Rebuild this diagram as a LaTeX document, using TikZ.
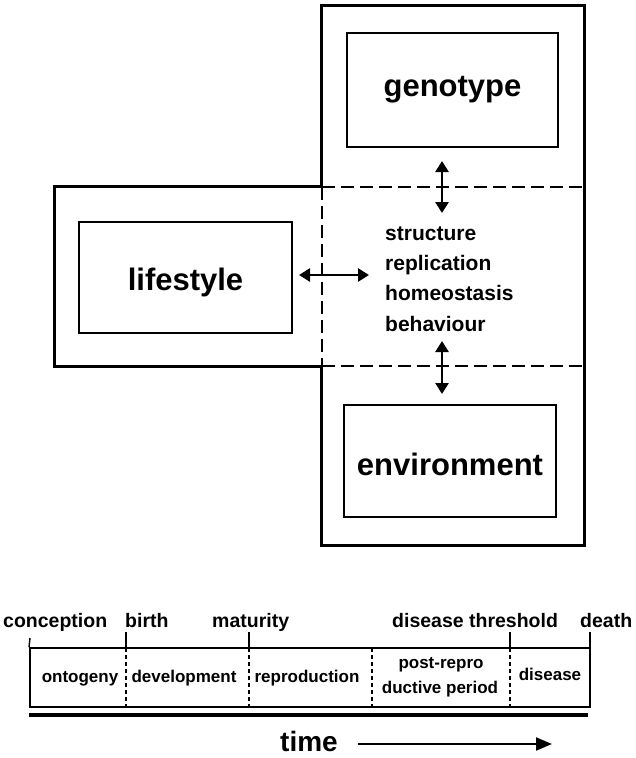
\documentclass[tikz,border=0pt]{standalone}
\usepackage{fontspec}
\setmainfont{Liberation Sans}
\usetikzlibrary{arrows.meta}
\begin{document}
\begin{tikzpicture}[x=1pt,y=-1pt,
  big/.style={font=\bfseries\fontsize{31}{31}\selectfont, inner sep=0},
  midtxt/.style={font=\bfseries\fontsize{21}{21}\selectfont, anchor=base west, inner sep=0},
  lab/.style={font=\bfseries\fontsize{19.5}{19.5}\selectfont, anchor=base west, inner sep=0},
  cell/.style={font=\bfseries\fontsize{17}{17}\selectfont, anchor=base, inner sep=0},
  inbox/.style={draw, line width=1.8pt, inner sep=0},
  region/.style={inner sep=0},
  outline/.style={line width=2.8pt, line join=miter},
  sepline/.style={dash pattern=on 13pt off 6pt, line width=1.6pt},
  celldiv/.style={dash pattern=on 4pt off 3pt, line width=1.1pt},
  tick/.style={line width=1.4pt},
  dbl/.style={{Triangle[length=11pt,width=13pt]}-{Triangle[length=11pt,width=13pt]}, line width=2.6pt},
  timearrow/.style={-{Triangle[length=16pt,width=13pt]}, line width=2pt}
]
\useasboundingbox (0,0) rectangle (635,758);

% regions
\node[region, minimum width=262pt, minimum height=539pt] (V) at (453,275.5) {};
\node[region, minimum width=267pt, minimum height=179pt] (H) at (188.5,276.5) {};
\draw[outline] (V.north west) -- (V.north east) -- (V.south east) -- (V.south west)
  -- (V.west |- H.south) -- (H.south west) -- (H.north west) -- (V.west |- H.north) -- cycle;
\draw[sepline] (V.west |- H.north) -- (V.east |- H.north);
\draw[sepline] (V.west |- H.south) -- (V.east |- H.south);
\draw[sepline] (V.west |- H.north) -- (V.west |- H.south);

% inner boxes
\node[inbox, minimum width=211pt, minimum height=114pt] (G) at (452.5,90) {};
\node[big] (Gt) at (G.center) {genotype};
\node[inbox, minimum width=212pt, minimum height=112pt] (E) at (450,461) {};
\node[big] (Et) at ([yshift=-3pt]E.center) {environment};
\node[inbox, minimum width=213pt, minimum height=111pt] (L) at (185.5,277.5) {};
\node[big] (Lt) at ([yshift=-5pt]L.center) {lifestyle};

% middle text
\node[midtxt] (m1) at (385,240) {structure};
\node[midtxt] (m2) at (385,270) {replication};
\node[midtxt] (m3) at (385,300) {homeostasis};
\node[midtxt] (m4) at (385,331) {behaviour};

% arrows
\coordinate (a1) at (442,161);
\coordinate (a2) at (442,213);
\coordinate (b1) at (442,341);
\coordinate (b2) at (442,394);
\coordinate (c1) at (299,275);
\coordinate (c2) at (369,275);
\draw[dbl] (a1) -- (a2);
\draw[dbl] (b1) -- (b2);
\draw[dbl] (c1) -- (c2);

% timeline
\node[draw, line width=1.9pt, inner sep=0, minimum width=560pt, minimum height=59pt] (TL) at (310,677.5) {};
\foreach \x/\n in {126/d1,249/d2,372/d3,510/d4}{
  \coordinate (\n t) at (\x,648);
  \coordinate (\n b) at (\x,707);
  \draw[celldiv] (\n t) -- (\n b);
}
\coordinate (k0) at (30,638);
\draw[tick] (k0) -- (TL.north west);
\foreach \x/\n in {126/k1,249/k2,510/k3,590/k4}{
  \coordinate (\n a) at (\x,632);
  \coordinate (\n b) at (\x,648);
  \draw[tick] (\n a) -- (\n b);
}
\node[lab] (lc) at (3,627) {conception};
\node[lab] (lb) at (125,627) {birth};
\node[lab] (lm) at (212,627) {maturity};
\node[lab] (lt) at (392,627) {disease threshold};
\node[lab] (ld) at (580,627) {death};

\node[cell] (c1t) at (80,682) {ontogeny};
\node[cell] (c2t) at (184,682) {development};
\node[cell] (c3t) at (307,682) {reproduction};
\node[cell] (c4a) at (441,668) {post-repro};
\node[cell] (c4b) at (440,693) {ductive period};
\node[cell] (c5t) at (550,680) {disease};

\coordinate (t1) at (29,715);
\coordinate (t2) at (588,715);
\draw[line width=3.2pt] (t1) -- (t2);

\node[font=\bfseries\fontsize{28}{28}\selectfont, anchor=base west, inner sep=0] (time) at (280,751) {time};
\coordinate (ta) at (358,744);
\coordinate (tb) at (552,744);
\draw[timearrow] (ta) -- (tb);
\end{tikzpicture}
\end{document}
